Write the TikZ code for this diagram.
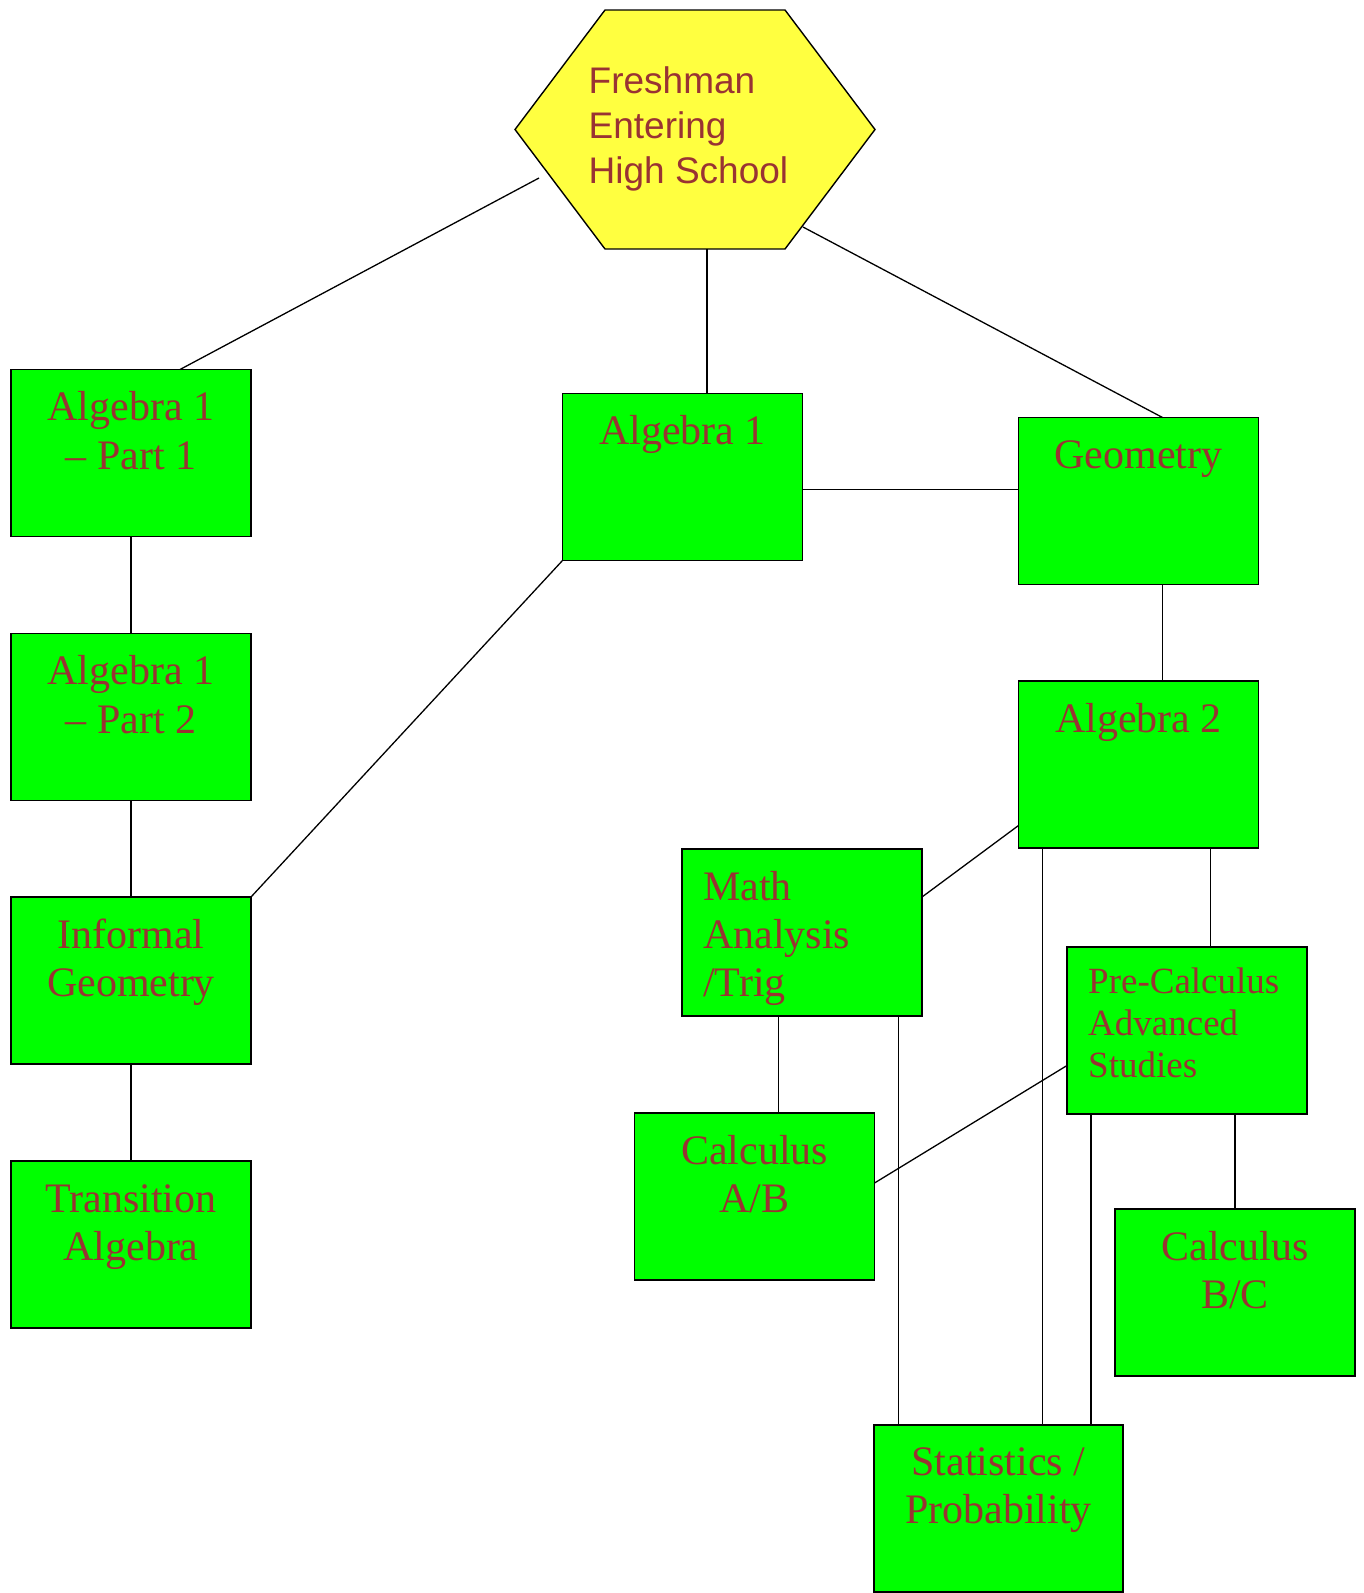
\documentclass[tikz,border=0pt]{standalone}
\usepackage{fontspec}
\setmainfont{Liberation Serif}
\newfontfamily\hexfont{Liberation Sans}
\definecolor{boxgreen}{RGB}{0,255,0}
\definecolor{hexyellow}{RGB}{255,255,64}
\definecolor{txtred}{RGB}{153,51,51}
\begin{document}
\begin{tikzpicture}[x=1pt,y=-1pt,
  course/.style={draw=black, line width=1.4pt, fill=boxgreen, minimum width=240pt, minimum height=167pt, inner sep=0pt, outer sep=0pt},
  lbl/.style={text=txtred, font=\fontsize{42}{48.5}\selectfont, align=center, inner sep=0pt, anchor=north},
  lbll/.style={text=txtred, font=\fontsize{42}{48}\selectfont, align=left, inner sep=0pt, anchor=north west},
  lbls/.style={text=txtred, font=\fontsize{37}{42}\selectfont, align=left, inner sep=0pt, anchor=north west},
  hexlbl/.style={text=txtred, font=\hexfont\fontsize{37}{45}\selectfont, align=left, inner sep=0pt, anchor=north west},
  link/.style={draw=black, line width=1.3pt}]
\useasboundingbox (0,0) rectangle (1363,1593);
\fill[white] (0,0) rectangle (1363,1593);

% hexagon
\node[minimum width=360pt, minimum height=239pt, inner sep=0pt, outer sep=0pt] (hex) at (695,129.5) {};
\draw[fill=hexyellow, line width=1.4pt, line join=miter]
  (hex.west) -- ([xshift=90pt]hex.north west) -- ([xshift=-90pt]hex.north east) -- (hex.east)
  -- ([xshift=-90pt]hex.south east) -- ([xshift=90pt]hex.south west) -- cycle;
\node[hexlbl] (fresh) at (588.5,61.5) {\strut Freshman\\Entering\\High School};

% course boxes
\node[course] (a1p1)   at (131,453)      {};
\node[course] (alg1)   at (682.5,477)    {};
\node[course] (geom)   at (1138.5,501)   {};
\node[course] (a1p2)   at (131,717)      {};
\node[course] (alg2)   at (1138.5,764.5) {};
\node[course] (math)   at (802,932.5)    {};
\node[course] (infgeo) at (131,980.5)    {};
\node[course] (precalc) at (1187,1030.5) {};
\node[course] (calcab) at (754.5,1196.5) {};
\node[course] (trans)  at (131,1244.5)   {};
\node[course] (calcbc) at (1235,1292.5)  {};
\node[course, minimum width=249pt] (stats) at (998.5,1508.5) {};

% labels
\node[lbl] (t-a1p1)   at ([yshift=-17pt]a1p1.north)   {\strut Algebra 1\\– Part 1};
\node[lbl] (t-alg1)   at ([yshift=-17pt]alg1.north)   {\strut Algebra 1};
\node[lbl] (t-geom)   at ([yshift=-17pt]geom.north)   {\strut Geometry};
\node[lbl] (t-a1p2)   at ([yshift=-17pt]a1p2.north)   {\strut Algebra 1\\– Part 2};
\node[lbl] (t-alg2)   at ([yshift=-17pt]alg2.north)   {\strut Algebra 2};
\node[lbll] (t-math)  at ([xshift=21pt,yshift=-18pt]math.north west) {\strut Math\\Analysis\\/Trig};
\node[lbl] (t-infgeo) at ([yshift=-17pt]infgeo.north) {\strut Informal\\Geometry};
\node[lbls] (t-precalc) at ([xshift=21pt,yshift=-16.6pt]precalc.north west) {\strut Pre-Calculus\\Advanced\\Studies};
\node[lbl] (t-calcab) at ([yshift=-17pt]calcab.north) {\strut Calculus\\A/B};
\node[lbl] (t-trans)  at ([yshift=-17pt]trans.north)  {\strut Transition\\Algebra};
\node[lbl] (t-calcbc) at ([yshift=-17pt]calcbc.north) {\strut Calculus\\B/C};
\node[lbl] (t-stats)  at ([yshift=-16pt]stats.north) {\strut Statistics /\\Probability};

% connector end points
\coordinate (hexL) at ([xshift=24pt,yshift=-48.5pt]hex.west);
\coordinate (hexR) at ([xshift=-72pt,yshift=-97.5pt]hex.east);
\coordinate (hexB) at ([xshift=12pt]hex.south);
\coordinate (a1p1T) at ([xshift=169pt]a1p1.north west);
\coordinate (geomT) at ([xshift=144pt]geom.north west);
\coordinate (alg1R) at ([yshift=-12.5pt]alg1.east);
\coordinate (geomB) at ([xshift=144pt]geom.south west);
\coordinate (alg2L) at ([yshift=-144.5pt]alg2.north west);
\coordinate (mathR) at ([yshift=-48pt]math.north east);
\coordinate (alg2B1) at ([xshift=24pt]alg2.south west);
\coordinate (alg2B2) at ([xshift=192pt]alg2.south west);
\coordinate (mathB1) at ([xshift=96.5pt]math.south west);
\coordinate (mathB2) at ([xshift=216.5pt]math.south west);
\coordinate (preL) at ([yshift=-118.5pt]precalc.north west);
\coordinate (cabR) at ([yshift=-70pt]calcab.north east);
\coordinate (preB1) at ([xshift=24pt]precalc.south west);
\coordinate (preB2) at ([xshift=168pt]precalc.south west);

% connectors
\draw[link] (hexL) -- (a1p1T);
\draw[link] (hexB) -- (hexB |- alg1.north);
\draw[link] (hexR) -- (geomT);
\draw[link] (alg1R) -- (alg1R -| geom.west);
\draw[link] (a1p1.south) -- (a1p2.north);
\draw[link] (a1p2.south) -- (infgeo.north);
\draw[link] (alg1.south west) -- (infgeo.north east);
\draw[link] (infgeo.south) -- (trans.north);
\draw[link] (geomB) -- (geomB |- alg2.north);
\draw[link] (alg2L) -- (mathR);
\draw[link] (alg2B1) -- (alg2B1 |- stats.north);
\draw[link] (alg2B2) -- (alg2B2 |- precalc.north);
\draw[link] (mathB1) -- (mathB1 |- calcab.north);
\draw[link] (mathB2) -- (mathB2 |- stats.north);
\draw[link] (preL) -- (cabR);
\draw[link] (preB1) -- (preB1 |- stats.north);
\draw[link] (preB2) -- (preB2 |- calcbc.north);
\end{tikzpicture}
\end{document}
